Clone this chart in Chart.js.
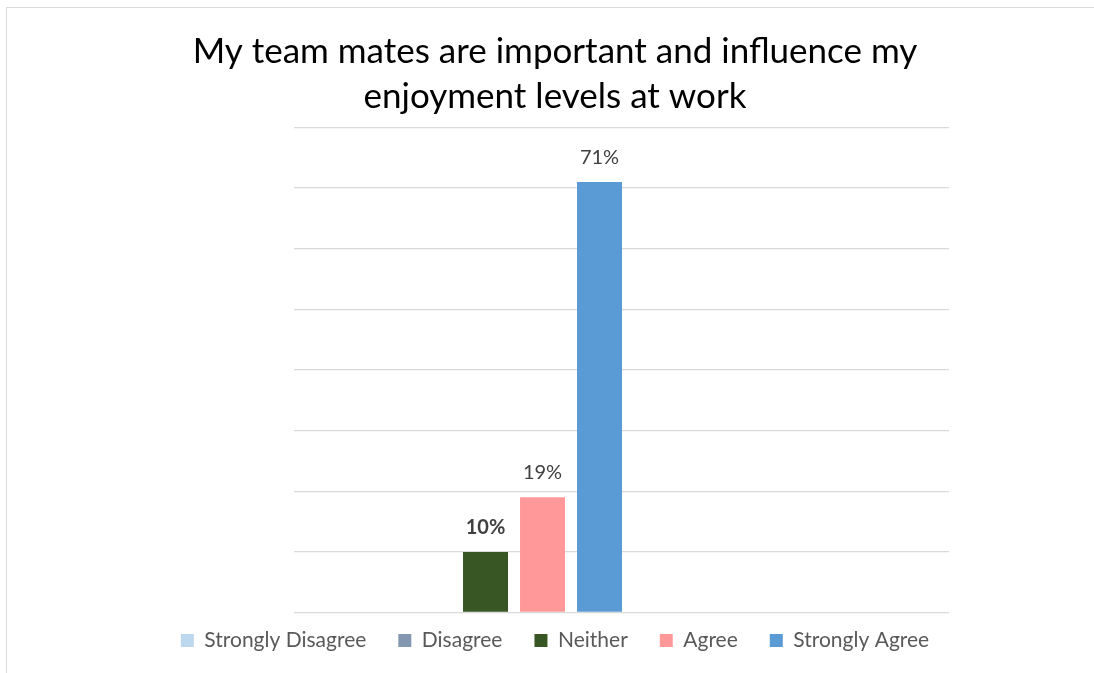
<!DOCTYPE html>
<html>
<head>
<meta charset="utf-8">
<title>Team mates and enjoyment at work</title>
<script src="https://cdn.jsdelivr.net/npm/chart.js@4/dist/chart.umd.min.js"></script>
<style>
  html, body { margin: 0; padding: 0; background: #ffffff; }
  #wrap { position: relative; width: 1094px; height: 673px; }
</style>
</head>
<body>
<div id="wrap"><canvas id="chart" width="1094" height="673"></canvas></div>
<script>
// Survey answers and the share of respondents (%) choosing each one
const answers = ['Strongly Disagree', 'Disagree', 'Neither', 'Agree', 'Strongly Agree'];
const shares = [0, 0, 10, 19, 71];
const answerColors = ['#BDD7EE', '#8497B0', '#375623', '#FF9999', '#5B9BD5'];
const boldLabels = ['Neither'];
const titleLines = ['My team mates are important and influence my', 'enjoyment levels at work'];
const valueMax = 80;
const valueStep = 10;

const FONT = 'Lato, "Open Sans", "Noto Sans", sans-serif';

// Thin frame round the chart object
const framePlugin = {
  id: 'frame',
  beforeDraw(chart) {
    const ctx = chart.ctx;
    ctx.save();
    ctx.strokeStyle = '#D9D9D9';
    ctx.lineWidth = 1;
    ctx.strokeRect(6.5, 7.5, 2000, 2000);
    ctx.restore();
  }
};

// Pull the legend row up, closer to the axis line
const legendLiftPlugin = {
  id: 'legendLift',
  afterLayout(chart) {
    const lift = 14.5;
    chart.legend.top -= lift;
    chart.legend.bottom -= lift;
  }
};

// Percent labels above each non-empty bar
const valueLabelPlugin = {
  id: 'valueLabels',
  afterDatasetsDraw(chart) {
    const ctx = chart.ctx;
    ctx.save();
    ctx.textAlign = 'center';
    ctx.textBaseline = 'alphabetic';
    ctx.fillStyle = '#404040';
    chart.data.datasets.forEach((ds, i) => {
      const meta = chart.getDatasetMeta(i);
      meta.data.forEach((bar, j) => {
        const v = ds.data[j].y;
        if (!v) return;
        const bold = boldLabels.includes(ds.label);
        ctx.font = (bold ? 'bold ' : '') + '20px ' + FONT;
        ctx.fillText(v + '%', bar.x, bar.y - 18);
      });
    });
    ctx.restore();
  }
};

const datasets = answers.map((name, i) => ({
  label: name,
  data: [{ x: 0, y: shares[i] }],
  backgroundColor: answerColors[i],
  borderWidth: 0,
  inflateAmount: 0,
  barThickness: 57,
  maxBarThickness: 45
}));

new Chart(document.getElementById('chart'), {
  type: 'bar',
  data: { datasets },
  plugins: [framePlugin, legendLiftPlugin, valueLabelPlugin],
  options: {
    responsive: false,
    animation: false,
    layout: { padding: { top: 29, left: 16, right: 0, bottom: -2.5 } },
    plugins: {
      tooltip: { enabled: false },
      title: {
        display: true,
        text: titleLines,
        color: '#000000',
        font: { family: FONT, size: 35, weight: 'normal', lineHeight: 45 / 35 },
        padding: { top: 0, bottom: 8.5 }
      },
      legend: {
        position: 'bottom',
        labels: {
          color: '#595959',
          font: { family: FONT, size: 21 },
          boxWidth: 13,
          boxHeight: 13,
          padding: 32
        }
      }
    },
    scales: {
      x: {
        type: 'linear',
        min: -1,
        max: 2.42,
        offset: false,
        display: false
      },
      y: {
        min: 0,
        max: valueMax,
        ticks: { display: false, stepSize: valueStep },
        grid: { color: '#D9D9D9', lineWidth: 1.3, drawTicks: false },
        border: { display: false },
        afterFit(scale) { scale.width = 278; }
      },
      yRight: {
        position: 'right',
        display: true,
        min: 0,
        max: valueMax,
        ticks: { display: false },
        grid: { display: false },
        border: { display: false },
        afterFit(scale) { scale.width = 145; }
      }
    }
  }
});
</script>
</body>
</html>
